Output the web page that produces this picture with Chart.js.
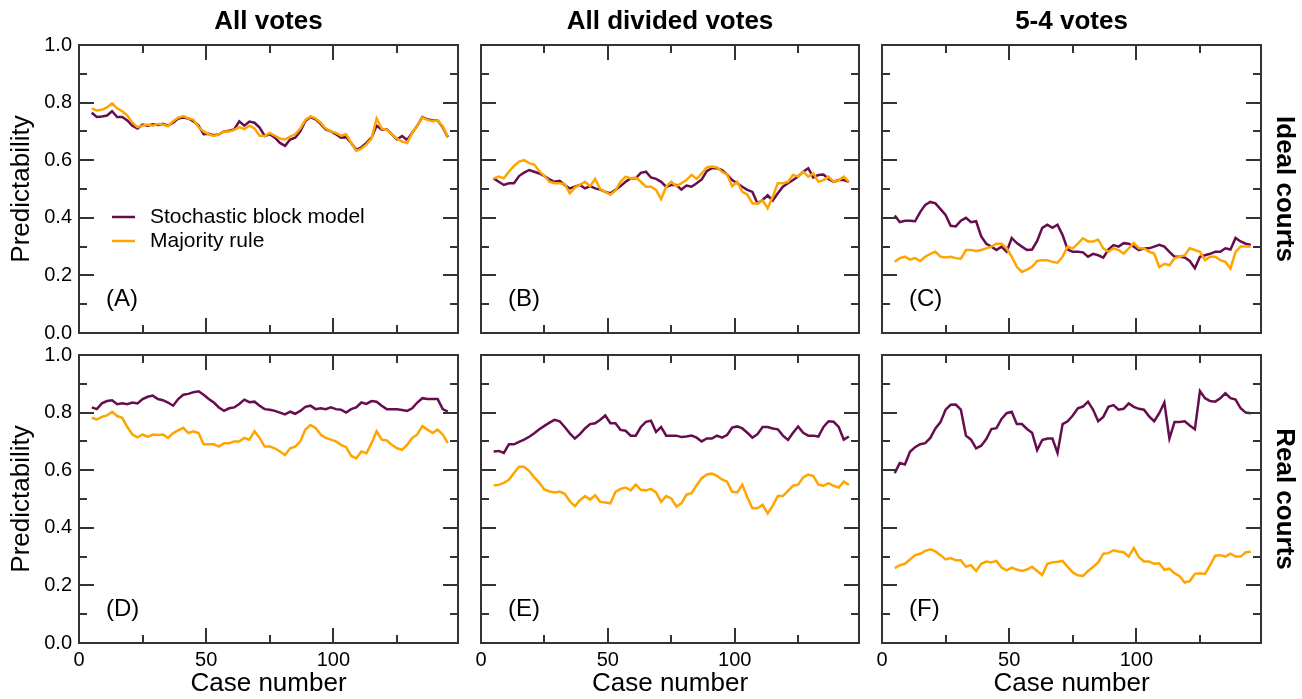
<!DOCTYPE html>
<html lang="en">
<head>
<meta charset="UTF-8">
<title>Predictability of court votes</title>
<script src="https://cdn.jsdelivr.net/npm/chart.js"></script>
<style>
  body { margin: 0; background: #fff; width: 1302px; height: 699px; position: relative; overflow: hidden; }
  canvas { position: absolute; }
</style>
</head>
<body>
<canvas id="pA"></canvas>
<canvas id="pB"></canvas>
<canvas id="pC"></canvas>
<canvas id="pD"></canvas>
<canvas id="pE"></canvas>
<canvas id="pF"></canvas>
<script>
// case number (centre of the sliding window), every second case
const caseNumbers = [
  5, 7, 9, 11, 13, 15, 17, 19, 21, 23,
  25, 27, 29, 31, 33, 35, 37, 39, 41, 43,
  45, 47, 49, 51, 53, 55, 57, 59, 61, 63,
  65, 67, 69, 71, 73, 75, 77, 79, 81, 83,
  85, 87, 89, 91, 93, 95, 97, 99, 101, 103,
  105, 107, 109, 111, 113, 115, 117, 119, 121, 123,
  125, 127, 129, 131, 133, 135, 137, 139, 141, 143,
  145
];

const seriesNames = ['Stochastic block model', 'Majority rule'];
const columnTitles = ['All votes', 'All divided votes', '5-4 votes'];
const rowTitles = ['Ideal courts', 'Real courts'];
const panelTags = ['(A)', '(B)', '(C)', '(D)', '(E)', '(F)'];
const yMajor = [0, 0.2, 0.4, 0.6, 0.8, 1.0];
const yMinor = [0.1, 0.3, 0.5, 0.7, 0.9];
const xMajor = [0, 50, 100];
const xMinor = [25, 75, 125];

// (A) ideal courts, all votes
const sbmA = [
  0.765, 0.750, 0.752, 0.755, 0.770, 0.750, 0.750, 0.738, 0.720, 0.710,
  0.724, 0.720, 0.725, 0.722, 0.726, 0.720, 0.730, 0.745, 0.748, 0.745,
  0.735, 0.720, 0.690, 0.692, 0.687, 0.690, 0.700, 0.702, 0.707, 0.735,
  0.720, 0.734, 0.730, 0.713, 0.684, 0.690, 0.678, 0.660, 0.650, 0.672,
  0.678, 0.700, 0.736, 0.750, 0.742, 0.726, 0.707, 0.700, 0.690, 0.678,
  0.680, 0.660, 0.636, 0.645, 0.660, 0.678, 0.720, 0.707, 0.707, 0.690,
  0.672, 0.684, 0.670, 0.695, 0.720, 0.750, 0.742, 0.738, 0.738, 0.715,
  0.680
];
const majA = [
  0.780, 0.773, 0.775, 0.783, 0.797, 0.780, 0.770, 0.755, 0.730, 0.715,
  0.720, 0.724, 0.720, 0.726, 0.724, 0.718, 0.735, 0.748, 0.753, 0.745,
  0.740, 0.715, 0.700, 0.690, 0.684, 0.690, 0.700, 0.700, 0.705, 0.715,
  0.708, 0.720, 0.710, 0.685, 0.684, 0.695, 0.685, 0.675, 0.672, 0.682,
  0.690, 0.710, 0.740, 0.752, 0.745, 0.730, 0.710, 0.700, 0.695, 0.685,
  0.690, 0.660, 0.632, 0.640, 0.655, 0.675, 0.745, 0.710, 0.705, 0.690,
  0.675, 0.665, 0.660, 0.695, 0.720, 0.748, 0.740, 0.735, 0.738, 0.718,
  0.682
];

// (B) ideal courts, all divided votes
const sbmB = [
  0.537, 0.525, 0.514, 0.520, 0.520, 0.545, 0.557, 0.566, 0.560, 0.554,
  0.545, 0.533, 0.525, 0.528, 0.514, 0.502, 0.508, 0.514, 0.502, 0.510,
  0.502, 0.498, 0.490, 0.485, 0.497, 0.510, 0.525, 0.537, 0.537, 0.556,
  0.560, 0.540, 0.535, 0.525, 0.508, 0.514, 0.514, 0.498, 0.512, 0.508,
  0.520, 0.533, 0.562, 0.572, 0.572, 0.566, 0.550, 0.531, 0.520, 0.508,
  0.497, 0.490, 0.450, 0.462, 0.478, 0.460, 0.485, 0.508, 0.520, 0.531,
  0.543, 0.560, 0.572, 0.540, 0.549, 0.550, 0.535, 0.525, 0.531, 0.531,
  0.525
];
const majB = [
  0.537, 0.543, 0.537, 0.560, 0.580, 0.595, 0.600, 0.590, 0.585, 0.562,
  0.545, 0.525, 0.520, 0.520, 0.518, 0.485, 0.505, 0.514, 0.525, 0.510,
  0.535, 0.500, 0.490, 0.480, 0.495, 0.525, 0.543, 0.537, 0.540, 0.525,
  0.508, 0.508, 0.497, 0.465, 0.508, 0.525, 0.510, 0.520, 0.531, 0.549,
  0.535, 0.554, 0.575, 0.578, 0.575, 0.560, 0.550, 0.510, 0.525, 0.490,
  0.480, 0.450, 0.450, 0.460, 0.433, 0.473, 0.520, 0.520, 0.525, 0.549,
  0.543, 0.560, 0.543, 0.554, 0.525, 0.531, 0.543, 0.525, 0.531, 0.543,
  0.525
];

// (C) ideal courts, 5-4 votes
const sbmC = [
  0.408, 0.385, 0.390, 0.390, 0.388, 0.420, 0.445, 0.455, 0.450, 0.430,
  0.410, 0.372, 0.370, 0.390, 0.400, 0.385, 0.388, 0.335, 0.310, 0.300,
  0.288, 0.300, 0.282, 0.330, 0.312, 0.300, 0.288, 0.290, 0.320, 0.365,
  0.376, 0.365, 0.376, 0.340, 0.290, 0.282, 0.282, 0.280, 0.265, 0.275,
  0.270, 0.262, 0.290, 0.305, 0.300, 0.312, 0.310, 0.300, 0.288, 0.294,
  0.294, 0.300, 0.306, 0.300, 0.282, 0.265, 0.265, 0.262, 0.250, 0.225,
  0.265, 0.270, 0.275, 0.282, 0.282, 0.294, 0.290, 0.330, 0.318, 0.310,
  0.306
];
const majC = [
  0.247, 0.260, 0.265, 0.255, 0.260, 0.250, 0.265, 0.275, 0.282, 0.265,
  0.262, 0.265, 0.260, 0.258, 0.288, 0.288, 0.285, 0.288, 0.294, 0.300,
  0.310, 0.310, 0.294, 0.265, 0.230, 0.212, 0.220, 0.230, 0.250, 0.253,
  0.253, 0.247, 0.244, 0.265, 0.300, 0.294, 0.310, 0.329, 0.318, 0.318,
  0.324, 0.294, 0.282, 0.294, 0.288, 0.276, 0.294, 0.312, 0.294, 0.294,
  0.282, 0.276, 0.229, 0.240, 0.235, 0.259, 0.265, 0.270, 0.294, 0.288,
  0.282, 0.253, 0.265, 0.265, 0.253, 0.247, 0.224, 0.282, 0.300, 0.300,
  0.300
];

// (D) real courts, all votes
const sbmD = [
  0.818, 0.812, 0.832, 0.840, 0.843, 0.829, 0.832, 0.829, 0.835, 0.832,
  0.847, 0.855, 0.859, 0.847, 0.843, 0.835, 0.824, 0.847, 0.862, 0.865,
  0.871, 0.874, 0.862, 0.847, 0.835, 0.818, 0.806, 0.815, 0.818, 0.830,
  0.845, 0.836, 0.838, 0.824, 0.812, 0.810, 0.806, 0.800, 0.794, 0.803,
  0.796, 0.806, 0.820, 0.824, 0.812, 0.815, 0.812, 0.818, 0.812, 0.810,
  0.800, 0.812, 0.818, 0.835, 0.830, 0.840, 0.838, 0.824, 0.812, 0.812,
  0.812, 0.809, 0.806, 0.815, 0.835, 0.850, 0.847, 0.847, 0.847, 0.812,
  0.803
];
const majD = [
  0.782, 0.776, 0.785, 0.790, 0.803, 0.788, 0.782, 0.750, 0.724, 0.714,
  0.724, 0.716, 0.724, 0.722, 0.724, 0.712, 0.729, 0.738, 0.747, 0.729,
  0.735, 0.729, 0.690, 0.690, 0.690, 0.682, 0.694, 0.694, 0.700, 0.700,
  0.712, 0.706, 0.735, 0.712, 0.682, 0.682, 0.676, 0.665, 0.653, 0.676,
  0.682, 0.700, 0.741, 0.757, 0.747, 0.724, 0.712, 0.706, 0.700, 0.688,
  0.680, 0.650, 0.641, 0.665, 0.659, 0.694, 0.735, 0.706, 0.703, 0.688,
  0.676, 0.671, 0.688, 0.712, 0.724, 0.753, 0.741, 0.729, 0.741, 0.724,
  0.694
];

// (E) real courts, all divided votes
const sbmE = [
  0.665, 0.667, 0.660, 0.690, 0.690, 0.698, 0.706, 0.716, 0.728, 0.742,
  0.754, 0.765, 0.775, 0.770, 0.750, 0.728, 0.710, 0.725, 0.745, 0.760,
  0.763, 0.775, 0.790, 0.763, 0.763, 0.740, 0.737, 0.720, 0.720, 0.750,
  0.768, 0.772, 0.733, 0.750, 0.720, 0.720, 0.720, 0.715, 0.717, 0.720,
  0.713, 0.700, 0.710, 0.710, 0.720, 0.713, 0.722, 0.748, 0.752, 0.745,
  0.730, 0.713, 0.725, 0.750, 0.750, 0.745, 0.742, 0.720, 0.705, 0.730,
  0.752, 0.730, 0.720, 0.720, 0.717, 0.750, 0.770, 0.768, 0.750, 0.706,
  0.717
];
const majE = [
  0.547, 0.549, 0.556, 0.567, 0.590, 0.612, 0.612, 0.597, 0.575, 0.556,
  0.533, 0.526, 0.523, 0.526, 0.518, 0.492, 0.475, 0.496, 0.510, 0.498,
  0.513, 0.490, 0.488, 0.485, 0.525, 0.535, 0.540, 0.530, 0.550, 0.532,
  0.530, 0.535, 0.523, 0.490, 0.510, 0.502, 0.474, 0.485, 0.515, 0.520,
  0.548, 0.572, 0.585, 0.588, 0.580, 0.568, 0.560, 0.525, 0.523, 0.550,
  0.505, 0.468, 0.468, 0.480, 0.450, 0.477, 0.510, 0.510, 0.528, 0.546,
  0.550, 0.575, 0.585, 0.580, 0.550, 0.546, 0.555, 0.546, 0.540, 0.560,
  0.549
];

// (F) real courts, 5-4 votes
const sbmF = [
  0.590, 0.625, 0.620, 0.664, 0.680, 0.690, 0.694, 0.712, 0.745, 0.767,
  0.810, 0.827, 0.828, 0.810, 0.720, 0.706, 0.676, 0.685, 0.708, 0.743,
  0.746, 0.778, 0.798, 0.803, 0.760, 0.760, 0.743, 0.730, 0.670, 0.705,
  0.710, 0.710, 0.660, 0.760, 0.770, 0.790, 0.815, 0.821, 0.838, 0.810,
  0.770, 0.785, 0.820, 0.826, 0.810, 0.813, 0.832, 0.820, 0.813, 0.810,
  0.787, 0.770, 0.798, 0.835, 0.710, 0.767, 0.767, 0.770, 0.755, 0.742,
  0.875, 0.850, 0.840, 0.838, 0.850, 0.867, 0.850, 0.845, 0.815, 0.800,
  0.798
];
const majF = [
  0.260, 0.270, 0.275, 0.290, 0.305, 0.310, 0.320, 0.325, 0.318, 0.305,
  0.290, 0.295, 0.287, 0.287, 0.265, 0.270, 0.250, 0.275, 0.283, 0.280,
  0.285, 0.262, 0.252, 0.262, 0.255, 0.250, 0.255, 0.265, 0.250, 0.236,
  0.275, 0.280, 0.282, 0.285, 0.264, 0.245, 0.235, 0.233, 0.250, 0.264,
  0.280, 0.310, 0.312, 0.322, 0.318, 0.315, 0.300, 0.330, 0.298, 0.283,
  0.283, 0.275, 0.277, 0.254, 0.258, 0.242, 0.232, 0.210, 0.215, 0.240,
  0.242, 0.240, 0.270, 0.303, 0.305, 0.300, 0.310, 0.300, 0.300, 0.315,
  0.317
];

const sbmSeries = [sbmA, sbmB, sbmC, sbmD, sbmE, sbmF];
const majSeries = [majA, majB, majC, majD, majE, majF];

// layout of the 3x2 grid (pixels)
const cols = [
  { left: 0,   width: 470, yWidth: 79, padRight: 12, rightWidth: 0 },
  { left: 470, width: 400, yWidth: 11, padRight: 11, rightWidth: 0 },
  { left: 870, width: 432, yWidth: 12, padRight: 0,  rightWidth: 41 }
];
const rows = [
  { top: 0,   height: 345, padTop: 0,  xHeight: 12 },
  { top: 345, height: 354, padTop: 10, xHeight: 56 }
];

const PURPLE = '#650d4d';
const ORANGE = '#ffa500';
const FRAME = '#333333';
const FONT = "'Liberation Sans', Arial, Helvetica, sans-serif";

Chart.defaults.font.family = FONT;
Chart.defaults.color = '#000';

// box around the plot with inward ticks on all four sides
const frameTicks = {
  id: 'frameTicks',
  afterDatasetsDraw(chart) {
    const { ctx, chartArea: a, scales: { x, y } } = chart;
    ctx.save();
    ctx.strokeStyle = FRAME;
    ctx.lineWidth = 2;
    ctx.beginPath();
    const yTick = (v, len) => {
      const py = Math.round(y.getPixelForValue(v));
      ctx.moveTo(a.left, py); ctx.lineTo(a.left + len, py);
      ctx.moveTo(a.right, py); ctx.lineTo(a.right - len, py);
    };
    const xTick = (v, len) => {
      const px = Math.round(x.getPixelForValue(v));
      ctx.moveTo(px, a.bottom); ctx.lineTo(px, a.bottom - len);
      ctx.moveTo(px, a.top); ctx.lineTo(px, a.top + len);
    };
    yMajor.forEach(v => yTick(v, 15));
    yMinor.forEach(v => yTick(v, 8));
    xMajor.forEach(v => xTick(v, 15));
    xMinor.forEach(v => xTick(v, 8));
    ctx.stroke();
    ctx.strokeRect(a.left, a.top, a.right - a.left, a.bottom - a.top);
    ctx.restore();
  }
};

// "(A)" .. "(F)" inside each panel
const panelTag = {
  id: 'panelTag',
  afterDraw(chart, args, opts) {
    const { ctx, chartArea: a } = chart;
    ctx.save();
    ctx.font = '24px ' + FONT;
    ctx.fillStyle = '#000';
    ctx.textAlign = 'left';
    ctx.textBaseline = 'middle';
    ctx.fillText(opts.text, a.left + 27, a.top + 254);
    ctx.restore();
  }
};

// legend inside panel A
const innerLegend = {
  id: 'innerLegend',
  afterDraw(chart) {
    const { ctx, chartArea: a } = chart;
    ctx.save();
    ctx.font = '21px ' + FONT;
    ctx.textAlign = 'left';
    ctx.textBaseline = 'middle';
    chart.data.datasets.forEach((ds, i) => {
      const yy = a.top + 172 + i * 24;
      ctx.strokeStyle = ds.borderColor;
      ctx.lineWidth = 2.5;
      ctx.beginPath();
      ctx.moveTo(a.left + 33, yy);
      ctx.lineTo(a.left + 56, yy);
      ctx.stroke();
      ctx.fillStyle = '#000';
      ctx.fillText(ds.label, a.left + 71, yy);
    });
    ctx.restore();
  }
};

function toPoints(vals) {
  return caseNumbers.map((c, i) => ({ x: c, y: vals[i] }));
}

function makePanel(idx) {
  const ci = idx % 3, ri = Math.floor(idx / 3);
  const col = cols[ci], row = rows[ri];
  const canvas = document.getElementById('p' + 'ABCDEF'[idx]);
  canvas.width = col.width;
  canvas.height = row.height;
  canvas.style.left = col.left + 'px';
  canvas.style.top = row.top + 'px';
  canvas.style.width = col.width + 'px';
  canvas.style.height = row.height + 'px';

  const showX = ri === 1;
  const showY = ci === 0;

  const scales = {
    x: {
      type: 'linear', min: 0, max: 149,
      grid: { display: false, drawTicks: false },
      border: { display: false },
      // padding 0 + tall line box keeps the "0" label from pushing the plot area
      ticks: { display: showX, padding: 0, maxRotation: 0, autoSkip: false,
               font: { size: 20, lineHeight: 1.7 }, color: '#000' },
      afterBuildTicks: s => { s.ticks = xMajor.map(v => ({ value: v })); },
      title: { display: showX, text: 'Case number', color: '#000',
               font: { size: 26, lineHeight: 1.2 }, padding: { top: 0, bottom: 0 } },
      afterFit: s => { s.height = row.xHeight; }
    },
    y: {
      type: 'linear', min: 0, max: 1,
      grid: { display: false, drawTicks: false },
      border: { display: false },
      ticks: { display: showY, padding: 7, autoSkip: false,
               font: { size: 20, lineHeight: 0.15 }, color: '#000',
               callback: v => v.toFixed(1) },
      afterBuildTicks: s => { s.ticks = yMajor.map(v => ({ value: v })); },
      title: { display: showY, text: 'Predictability', color: '#000',
               font: { size: 26, lineHeight: 1.2 }, padding: { top: 6, bottom: 0 } },
      afterFit: s => { s.width = col.yWidth; }
    }
  };
  if (col.rightWidth) {
    scales.y2 = {
      type: 'linear', position: 'right', min: 0, max: 1,
      grid: { display: false, drawTicks: false },
      border: { display: false },
      ticks: { display: false },
      title: { display: true, text: rowTitles[ri], color: '#000',
               font: { size: 26, weight: 'bold', lineHeight: 1.2 }, padding: { top: 2.5, bottom: 0 } },
      afterFit: s => { s.width = col.rightWidth; }
    };
  }

  const plugins = [frameTicks, panelTag];
  if (idx === 0) plugins.push(innerLegend);

  return new Chart(canvas, {
    type: 'line',
    data: {
      datasets: [
        { label: seriesNames[0], data: toPoints(sbmSeries[idx]), borderColor: PURPLE,
          borderWidth: 2.5, pointRadius: 0, tension: 0, fill: false, order: 2 },
        { label: seriesNames[1], data: toPoints(majSeries[idx]), borderColor: ORANGE,
          borderWidth: 2.5, pointRadius: 0, tension: 0, fill: false, order: 1 }
      ]
    },
    options: {
      responsive: false,
      animation: false,
      devicePixelRatio: 1,
      layout: { padding: { top: row.padTop, right: col.padRight, left: 0, bottom: 0 } },
      scales: scales,
      plugins: {
        legend: { display: false },
        tooltip: { enabled: false },
        title: {
          display: ri === 0, text: columnTitles[ci], color: '#000', fullSize: false,
          font: { size: 26, weight: 'bold', lineHeight: 1.2 },
          padding: { top: 6.4, bottom: 7.4 }
        },
        panelTag: { text: panelTags[idx] }
      }
    },
    plugins: plugins
  });
}

for (let i = 0; i < 6; i++) makePanel(i);
</script>
</body>
</html>
